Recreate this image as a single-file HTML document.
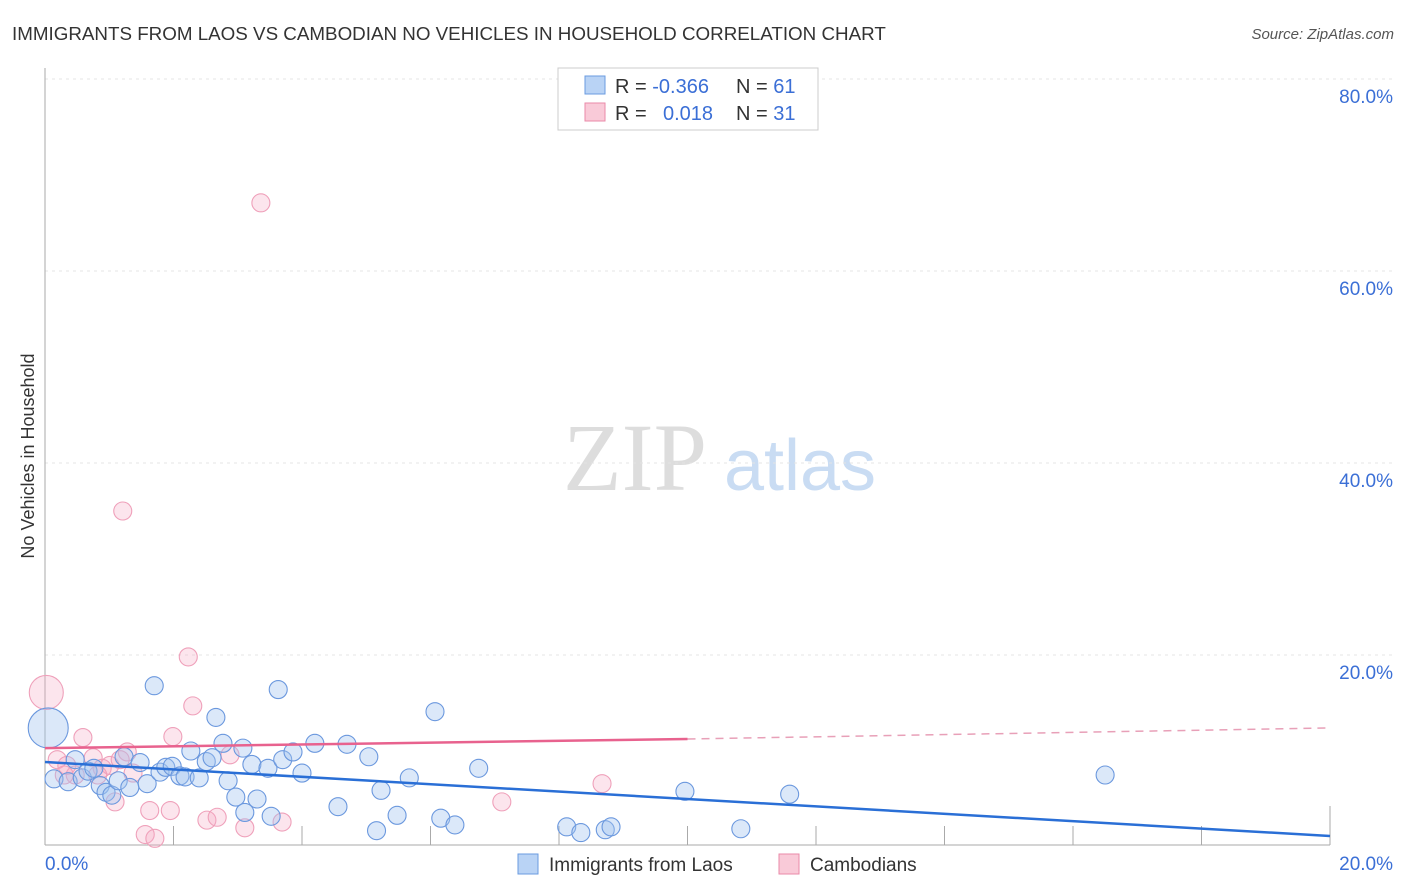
<!DOCTYPE html>
<html><head><meta charset="utf-8"><style>
body{margin:0;background:#fff;font-family:"Liberation Sans",sans-serif;}
svg{display:block}
</style></head><body>
<svg id="chart" width="1406" height="892">
<text x="12" y="40" font-size="18.8" fill="#333">IMMIGRANTS FROM LAOS VS CAMBODIAN NO VEHICLES IN HOUSEHOLD CORRELATION CHART</text>
<text x="1394" y="39" font-size="15" fill="#555" font-style="italic" text-anchor="end">Source: ZipAtlas.com</text>
<g>
<text x="635" y="490" font-size="96" font-family="Liberation Serif,serif" fill="#ddd" text-anchor="middle">ZIP</text>
<text x="800" y="490" font-size="72" fill="#c9dcf3" text-anchor="middle">atlas</text>
</g>
<g id="grid"></g>
<g id="axes"></g>
<g id="pts"></g>
<g id="trend"></g>
<text transform="translate(34,456) rotate(-90)" font-size="18" fill="#333" text-anchor="middle">No Vehicles in Household</text>
<g>
<rect x="558" y="68" width="260" height="62" fill="#fff" stroke="#ccc"/>
<rect x="585" y="76" width="20" height="18" fill="#b9d3f5" stroke="#6a9be0"/>
<rect x="585" y="103" width="20" height="18" fill="#f9cad8" stroke="#ea8aa8"/>
<text x="615" y="93" font-size="20" fill="#333">R = <tspan fill="#3b6fd6">-0.366</tspan></text>
<text x="736" y="93" font-size="20" fill="#333">N = <tspan fill="#3b6fd6">61</tspan></text>
<text x="615" y="120" font-size="20" fill="#333">R = <tspan fill="#3b6fd6" x="663">0.018</tspan></text>
<text x="736" y="120" font-size="20" fill="#333">N = <tspan fill="#3b6fd6">31</tspan></text>
</g>
<g>
<rect x="518" y="854" width="20" height="20" fill="#b9d3f5" stroke="#6a9be0"/>
<text x="549" y="871" font-size="19" fill="#333">Immigrants from Laos</text>
<rect x="779" y="854" width="20" height="20" fill="#f9cad8" stroke="#ea8aa8"/>
<text x="810" y="871" font-size="19" fill="#333">Cambodians</text>
</g>
</svg>
<script>
const yTicks=[20,40,60,80];
const yTickLabels=["20.0%","40.0%","60.0%","80.0%"];
const xTickLabels=["0.0%","20.0%"];
const laosX=[0.05,0.14,0.36,0.47,0.58,0.67,0.76,0.86,0.95,1.04,1.14,1.23,1.32,1.48,1.59,1.70,1.79,1.88,1.98,2.10,2.18,2.27,2.40,2.51,2.60,2.66,2.77,2.85,2.97,3.08,3.11,3.22,3.30,3.47,3.52,3.63,3.70,3.86,4.00,4.20,4.56,4.70,5.04,5.23,5.16,5.48,5.67,6.07,6.16,6.38,6.75,8.12,8.34,8.72,8.81,9.96,10.83,11.59,16.50];
const laosY=[12.4,7.1,6.8,9.1,7.2,7.9,8.2,6.4,5.7,5.4,6.9,9.4,6.2,8.8,6.6,16.8,7.8,8.3,8.4,7.4,7.3,10.0,7.2,8.9,9.3,13.5,10.8,6.9,5.2,10.3,3.6,8.6,5.0,8.2,3.2,16.4,9.1,9.9,7.7,10.8,4.2,10.7,9.4,5.9,1.7,3.3,7.2,14.1,3.0,2.3,8.2,2.1,1.5,1.8,2.1,5.8,1.9,5.5,7.5];
const cambX=[0.02,0.19,0.34,0.59,0.75,0.89,1.01,1.28,1.37,1.09,1.63,1.95,1.56,1.71,1.99,2.23,2.30,2.52,2.68,2.88,3.11,3.69,3.36,1.21,7.11,8.67,0.47,0.30,0.82,1.17];
const cambY=[16.1,9.1,8.5,11.4,9.3,8.2,8.5,9.9,7.7,4.7,3.8,3.8,1.3,0.9,11.5,19.8,14.7,2.8,3.1,9.6,2.0,2.6,67.1,35.0,4.7,6.6,7.5,7.5,7.5,9.1];
const laosTrend=[8.85,1.15];
const cambTrend=[10.3,11.25,12.4];
const X0=45,X1=1330,Y0=847,Y1=79;
const sx=v=>X0+(v/20)*(X1-X0);
const sy=v=>Y0-(v/80)*(Y0-Y1);
const NS="http://www.w3.org/2000/svg";
function mk(t,a,p){const e=document.createElementNS(NS,t);for(const k in a)e.setAttribute(k,a[k]);p.appendChild(e);return e;}
const grid=document.getElementById('grid'),axes=document.getElementById('axes'),pts=document.getElementById('pts'),trend=document.getElementById('trend');
yTicks.forEach((t,i)=>{
 const l=mk('line',{x1:X0,x2:1393,y1:sy(t),y2:sy(t),stroke:'#e4e4e4','stroke-dasharray':'3,4'},grid);
 
 
 const tx=mk('text',{x:1393,y:sy(t)+24,'font-size':19,fill:'#3b6fd6','text-anchor':'end'},axes);
 tx.textContent=yTickLabels[i];
 
 
});
let a=mk('line',{x1:X0,x2:X0,y1:68,y2:845,stroke:'#aaa'},axes);


a=mk('line',{x1:X0,x2:X1,y1:845,y2:845,stroke:'#aaa'},axes);


for(let i=1;i<=10;i++){
 const tk=mk('line',{x1:sx(i*2),x2:sx(i*2),y1:845,y2:i==10?806:826,stroke:'#aaa'},axes);
 
 
}
xTickLabels.forEach((s,i)=>{
 const tx=mk('text',{x:i?1393:45,y:870,'font-size':19,fill:'#3b6fd6','text-anchor':i?'end':'start'},axes);
 tx.textContent=s;
 
 
});
cambX.forEach((x,i)=>{
 const c=mk('circle',{cx:sx(x),cy:sy(cambY[i]),r:i==0?17:9,fill:'rgba(246,170,195,0.3)',stroke:'#efa0ba','stroke-width':1.1},pts);
 
 
});
laosX.forEach((x,i)=>{
 const c=mk('circle',{cx:sx(x),cy:sy(laosY[i]),r:i==0?20:9,fill:'rgba(160,195,240,0.38)',stroke:'#6b98de','stroke-width':1.1},pts);
 
 
});
let t=mk('line',{x1:sx(0),y1:sy(laosTrend[0]),x2:sx(20),y2:sy(laosTrend[1]),stroke:'#2a6fd6','stroke-width':2.5},trend);


t=mk('line',{x1:sx(0),y1:sy(cambTrend[0]),x2:sx(10),y2:sy(cambTrend[1]),stroke:'#e8628e','stroke-width':2.5},trend);


t=mk('line',{x1:sx(10),y1:sy(cambTrend[1]),x2:sx(20),y2:sy(cambTrend[2]),stroke:'#e8a0b8','stroke-width':1.5,'stroke-dasharray':'8,6'},trend);


</script>
</body></html>
